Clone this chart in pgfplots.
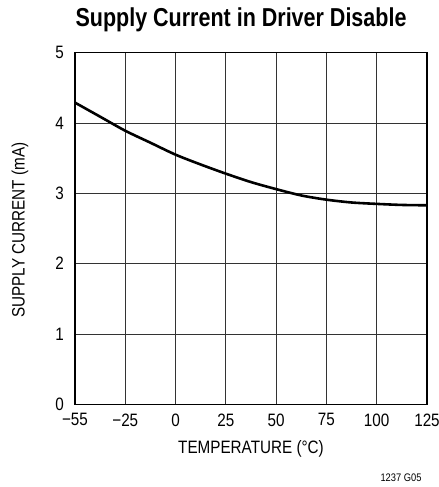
\documentclass[border=0pt]{standalone}
\usepackage{pgfplots}
\pgfplotsset{compat=1.18}
\usepackage{fontspec}
\setmainfont[FakeStretch=0.85]{Liberation Sans}
\newfontfamily\titlefont[FakeStretch=0.83]{Liberation Sans}
\begin{document}
\begin{tikzpicture}
\useasboundingbox (0,0) rectangle (439bp,487bp);
\begin{axis}[
    at={(75bp,82.7bp)}, anchor=south west,
    scale only axis,
    width=352bp, height=351.6bp,
    xmin=0, xmax=7, ymin=0, ymax=5,
    xtick={0,1,2,3,4,5,6,7},
    xticklabels={−55, −25, 0, 25, 50, 75, 100, 125},
    ytick={0,1,2,3,4,5},
    grid=major,
    major grid style={line width=0.9pt, black!80},
    axis line style={line width=1.3pt},
    major tick length=0pt,
    ticklabel style={font=\fontsize{18}{20}\selectfont},
    xticklabel style={inner sep=0pt, anchor=north, yshift=-9bp},
    yticklabel style={inner sep=0pt, anchor=east, xshift=-11bp},
    /pgf/number format/assume math mode=true,
    xlabel={TEMPERATURE (°C)},
    label style={font=\fontsize{18}{20}\selectfont},
    xlabel style={at={(rel axis cs:0.5,0)}, anchor=north, yshift=-36bp, inner sep=0pt},
]
\addplot[black, line width=2.6pt, smooth] coordinates {
    (0,4.29) (0.5,4.09) (1,3.89) (1.5,3.72) (2,3.55) (2.5,3.41) (3,3.28)
    (3.5,3.16) (4,3.06) (4.5,2.97) (5,2.91) (5.5,2.87) (6,2.85) (6.5,2.835) (7,2.83)
};
\end{axis}
\node[rotate=90, font=\fontsize{18}{20}\selectfont] at (20bp,257bp) {SUPPLY CURRENT (mA)};
\node at (241bp,467bp) {\fontsize{26}{30}\selectfont\titlefont\bfseries Supply Current in Driver Disable};
\node[anchor=base east] at (425bp,6bp) {\fontsize{11}{13}\selectfont 1237 G05};
\end{tikzpicture}
\end{document}
